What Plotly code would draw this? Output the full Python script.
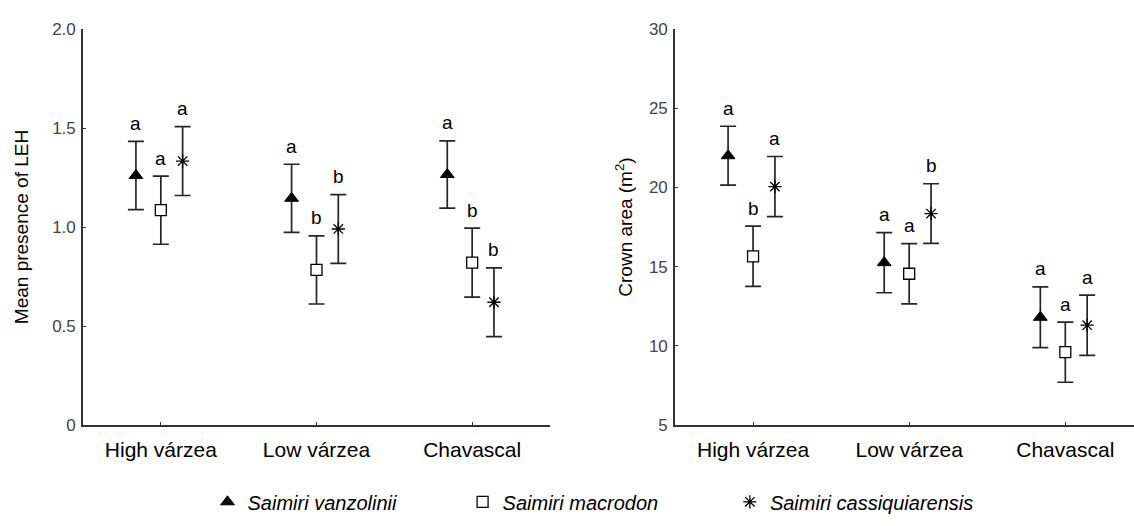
import plotly.graph_objects as go

categories = ["High várzea", "Low várzea", "Chavascal"]
species = ["Saimiri vanzolinii", "Saimiri macrodon", "Saimiri cassiquiarensis"]
offsets = [-0.16, 0.0, 0.14]

# Left panel: mean presence of LEH
leh_mean = {
    "Saimiri vanzolinii": [1.26, 1.145, 1.265],
    "Saimiri macrodon": [1.085, 0.783, 0.82],
    "Saimiri cassiquiarensis": [1.333, 0.99, 0.62],
}
leh_err = {
    "Saimiri vanzolinii": [0.172, 0.172, 0.17],
    "Saimiri macrodon": [0.172, 0.172, 0.174],
    "Saimiri cassiquiarensis": [0.174, 0.174, 0.174],
}
leh_letters = {
    "Saimiri vanzolinii": ["a", "a", "a"],
    "Saimiri macrodon": ["a", "b", "b"],
    "Saimiri cassiquiarensis": ["a", "b", "b"],
}

# Right panel: crown area (m2)
crown_mean = {
    "Saimiri vanzolinii": [22.0, 15.25, 11.8],
    "Saimiri macrodon": [15.65, 14.55, 9.6],
    "Saimiri cassiquiarensis": [20.05, 18.35, 11.3],
}
crown_err = {
    "Saimiri vanzolinii": [1.86, 1.9, 1.92],
    "Saimiri macrodon": [1.9, 1.9, 1.9],
    "Saimiri cassiquiarensis": [1.9, 1.88, 1.9],
}
crown_letters = {
    "Saimiri vanzolinii": ["a", "a", "a"],
    "Saimiri macrodon": ["b", "a", "a"],
    "Saimiri cassiquiarensis": ["a", "b", "a"],
}

legend_pad = {"Saimiri vanzolinii": 11, "Saimiri macrodon": 12, "Saimiri cassiquiarensis": 0}

markers = {
    "Saimiri vanzolinii": dict(symbol="triangle-up", size=12, color="black",
                               line=dict(color="black", width=1)),
    "Saimiri macrodon": dict(symbol="square", size=11, color="white",
                             line=dict(color="black", width=1.3)),
    "Saimiri cassiquiarensis": dict(symbol="asterisk-open", size=11, color="black",
                                    line=dict(color="black", width=1.3)),
}

FONT = "Arial, Liberation Sans, sans-serif"
fig = go.Figure()

annotations = []
for panel, (means, errs, letters, xa, ya) in enumerate([
    (leh_mean, leh_err, leh_letters, "x", "y"),
    (crown_mean, crown_err, crown_letters, "x2", "y2"),
]):
    for si, sp in enumerate(species):
        xs = [i + offsets[si] for i in range(len(categories))]
        fig.add_trace(go.Scatter(
            x=xs, y=means[sp], mode="markers",
            name="<i>" + sp + "</i>" + "&nbsp;" * legend_pad[sp],
            marker=markers[sp],
            error_y=dict(type="data", array=errs[sp], color="#262626",
                         thickness=1.7, width=8),
            xaxis=xa, yaxis=ya, showlegend=(panel == 0),
        ))
        for i in range(len(categories)):
            annotations.append(dict(
                x=xs[i], y=means[sp][i] + errs[sp][i], xref=xa, yref=ya,
                text=letters[sp][i], showarrow=False, yanchor="middle",
                yshift=18, font=dict(size=19, color="black", family=FONT),
            ))

axis_common = dict(showgrid=False, zeroline=False, showline=True,
                   linecolor="#333333", linewidth=1.6)

fig.update_layout(
    width=1134, height=526,
    paper_bgcolor="white", plot_bgcolor="white",
    margin=dict(l=0, r=0, t=29, b=101, autoexpand=False),
    font=dict(family=FONT, color="black"),
    xaxis=dict(domain=[83 / 1134, 550 / 1134], range=[-0.5, 2.5],
               tickvals=[0, 1, 2], ticktext=categories,
               ticks="inside", ticklen=3, tickcolor="#333333",
               ticklabelstandoff=5,
               tickfont=dict(size=21, color="black"), **axis_common),
    yaxis=dict(range=[0, 2.0], tickvals=[0, 0.5, 1.0, 1.5, 2.0],
               ticktext=["0", "0.5", "1.0", "1.5", "2.0"],
               ticks="inside", ticklen=3, tickcolor="#333333",
               ticklabelstandoff=2,
               tickfont=dict(size=17, color="#444444"),
               title=dict(text="Mean presence of LEH", font=dict(size=19, color="black"),
                          standoff=19),
               **axis_common),
    xaxis2=dict(domain=[675 / 1134, 1.0], range=[-0.5, 2.44],
                tickvals=[0, 1, 2], ticktext=categories,
                ticks="inside", ticklen=3, tickcolor="#333333",
                ticklabelstandoff=5,
                tickfont=dict(size=21, color="black"), anchor="y2", **axis_common),
    yaxis2=dict(range=[5, 30], tickvals=[5, 10, 15, 20, 25, 30],
                ticks="inside", ticklen=3, tickcolor="#333333",
                ticklabelstandoff=2,
                tickfont=dict(size=17, color="#444444"), anchor="x2",
                title=dict(text="Crown area (m<sup>2</sup>)", font=dict(size=19, color="black"),
                           standoff=11),
                **axis_common),
    legend=dict(orientation="h", x=0.183, xanchor="left", y=-0.194, yanchor="middle",
                font=dict(size=20, color="black", family=FONT),
                itemwidth=30, tracegroupgap=0),
    annotations=annotations,
)

fig.write_html("out.html", config={"displayModeBar": False},
               post_script="document.body.style.margin='0px';")
